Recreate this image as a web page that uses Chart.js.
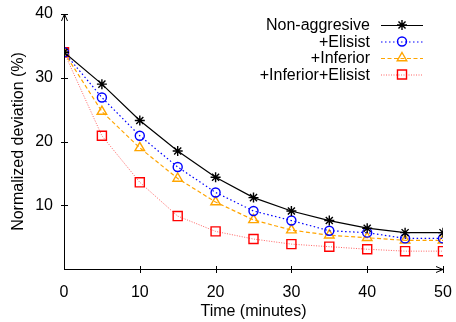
<!DOCTYPE html>
<html>
<head>
<meta charset="utf-8">
<script src="https://cdn.jsdelivr.net/npm/chart.js@4.4.0/dist/chart.umd.min.js"></script>
<style>
  html, body { margin: 0; padding: 0; background: #fff; }
  #wrap { width: 456px; height: 322px; }
</style>
</head>
<body>
<div id="wrap"><canvas id="chart" width="456" height="322"></canvas></div>
<script>
// data
const minutes = [0, 5, 10, 15, 20, 25, 30, 35, 40, 45, 50];
const nonAggressive = [34, 29.0, 23.3, 18.5, 14.4, 11.2, 9.1, 7.6, 6.4, 5.7, 5.7];
const elisist = [34, 26.9, 20.9, 16.0, 12.0, 9.1, 7.6, 6.0, 5.7, 4.8, 4.8];
const inferior = [34, 24.7, 19.0, 14.2, 10.5, 7.7, 6.1, 5.3, 4.9, 4.5, 4.5];
const inferiorElisist = [34, 20.9, 13.6, 8.3, 5.9, 4.7, 3.9, 3.5, 3.1, 2.8, 2.8];
const yTicks = [10, 20, 30, 40];
const xTicks = [0, 10, 20, 30, 40, 50];

const FONT = 'Liberation Sans, Arial, Helvetica, sans-serif';

function pts(vals){
  return vals.map((v, i) => ({x: minutes[i], y: v}));
}

const datasets = [
  { label: 'Non-aggresive', data: pts(nonAggressive), borderColor: '#000', backgroundColor: 'transparent',
    borderWidth: 1.2, borderDash: [], pointStyle: 'star', pointRadius: 5, pointBorderWidth: 1.4,
    pointBorderColor: '#000', lineColor: '#000' },
  { label: '+Elisist', data: pts(elisist), borderColor: '#0000ff', backgroundColor: 'transparent',
    borderWidth: 1.2, borderDash: [1.5, 2.5], pointStyle: 'circle', pointRadius: 4.5, pointBorderWidth: 1.4,
    pointBorderColor: '#0000ff', lineColor: '#0000ff' },
  { label: '+Inferior', data: pts(inferior), borderColor: '#ffa500', backgroundColor: 'transparent',
    borderWidth: 1.2, borderDash: [4, 2.5], pointStyle: 'triangle', pointRadius: 5.5, pointBorderWidth: 1.4,
    pointBorderColor: '#ffa500', lineColor: '#ffa500' },
  { label: '+Inferior+Elisist', data: pts(inferiorElisist), borderColor: 'rgba(255,60,60,0.8)', backgroundColor: 'transparent',
    borderWidth: 1, borderDash: [1, 1.5], pointStyle: 'rect', pointRadius: 6.4, pointBorderWidth: 1.4,
    pointBorderColor: '#ff0000', lineColor: 'rgba(255,60,60,0.8)' }
];

// gnuplot style axes: ticks crossing the axis, arrows at the ends, legend top right
const gnuplotAxes = {
  id: 'gnuplotAxes',
  afterDraw(chart){
    const ctx = chart.ctx;
    const xs = chart.scales.x, ys = chart.scales.y;
    const x0 = xs.getPixelForValue(0), x1 = xs.getPixelForValue(50);
    const y0 = ys.getPixelForValue(0), y1 = ys.getPixelForValue(40);
    ctx.save();
    ctx.strokeStyle = '#000';
    ctx.lineWidth = 1;
    ctx.beginPath();
    ctx.moveTo(x0 + 0.5, y0); ctx.lineTo(x0 + 0.5, y1);
    ctx.moveTo(x0, y0 + 0.5); ctx.lineTo(x1, y0 + 0.5);
    // arrows
    ctx.moveTo(x0 - 2.5, y1 + 7); ctx.lineTo(x0 + 0.5, y1); ctx.lineTo(x0 + 3.5, y1 + 7);
    ctx.moveTo(x1 - 7, y0 - 2.5); ctx.lineTo(x1, y0 + 0.5); ctx.lineTo(x1 - 7, y0 + 3.5);
    yTicks.forEach(v => {
      const p = Math.round(ys.getPixelForValue(v)) + 0.5;
      ctx.moveTo(x0 - 3, p); ctx.lineTo(x0 + 4, p);
    });
    xTicks.forEach(v => {
      if (v === 0) return;
      const p = Math.round(xs.getPixelForValue(v)) + 0.5;
      ctx.moveTo(p, y0 - 3); ctx.lineTo(p, y0 + 4);
    });
    ctx.stroke();

    // legend
    ctx.font = '16px ' + FONT;
    ctx.textAlign = 'right';
    ctx.textBaseline = 'middle';
    const rowY = [25, 41.5, 58, 74.5];
    chart.data.datasets.forEach((ds, i) => {
      const y = rowY[i];
      ctx.fillStyle = '#000';
      ctx.fillText(ds.label, 370, y + 1);
      ctx.strokeStyle = ds.lineColor;
      ctx.lineWidth = ds.borderWidth;
      ctx.setLineDash(ds.borderDash);
      ctx.beginPath();
      ctx.moveTo(381, y + 0.5); ctx.lineTo(423, y + 0.5);
      ctx.stroke();
      ctx.setLineDash([]);
      ctx.fillStyle = 'rgba(0,0,0,0)';
      ctx.strokeStyle = ds.pointBorderColor;
      ctx.lineWidth = ds.pointBorderWidth;
      Chart.helpers.drawPoint(ctx, {pointStyle: ds.pointStyle, radius: ds.pointRadius, rotation: 0, borderWidth: ds.pointBorderWidth}, 402, y);
    });
    ctx.restore();
  }
};

new Chart(document.getElementById('chart'), {
  type: 'line',
  data: { datasets: datasets },
  options: {
    responsive: false,
    animation: false,
    layout: { padding: { left: 0, top: 14, right: 13, bottom: 0 } },
    plugins: { legend: { display: false }, tooltip: { enabled: false } },
    elements: { line: { tension: 0 } },
    scales: {
      x: {
        type: 'linear', min: 0, max: 50,
        grid: { display: false, drawTicks: false },
        border: { display: false },
        ticks: { stepSize: 10, padding: 14, color: '#000', font: { family: FONT, size: 16 } },
        title: { display: true, text: 'Time (minutes)', color: '#000', font: { family: FONT, size: 16 }, padding: { top: 0, bottom: 1 } },
        afterFit(s){ s.height = 53; s.paddingLeft = 0; s.paddingRight = 0; }
      },
      y: {
        type: 'linear', min: 0, max: 40,
        grid: { display: false, drawTicks: false },
        border: { display: false },
        ticks: { stepSize: 10, padding: 11, color: '#000', font: { family: FONT, size: 16 },
          callback: v => v === 0 ? '' : v },
        title: { display: true, text: 'Normalized deviation (%)', color: '#000', font: { family: FONT, size: 16 }, padding: { top: 9, bottom: 0 } },
        afterFit(s){ s.width = 64; s.paddingTop = 0; s.paddingBottom = 0; }
      }
    }
  },
  plugins: [gnuplotAxes]
});
</script>
</body>
</html>
